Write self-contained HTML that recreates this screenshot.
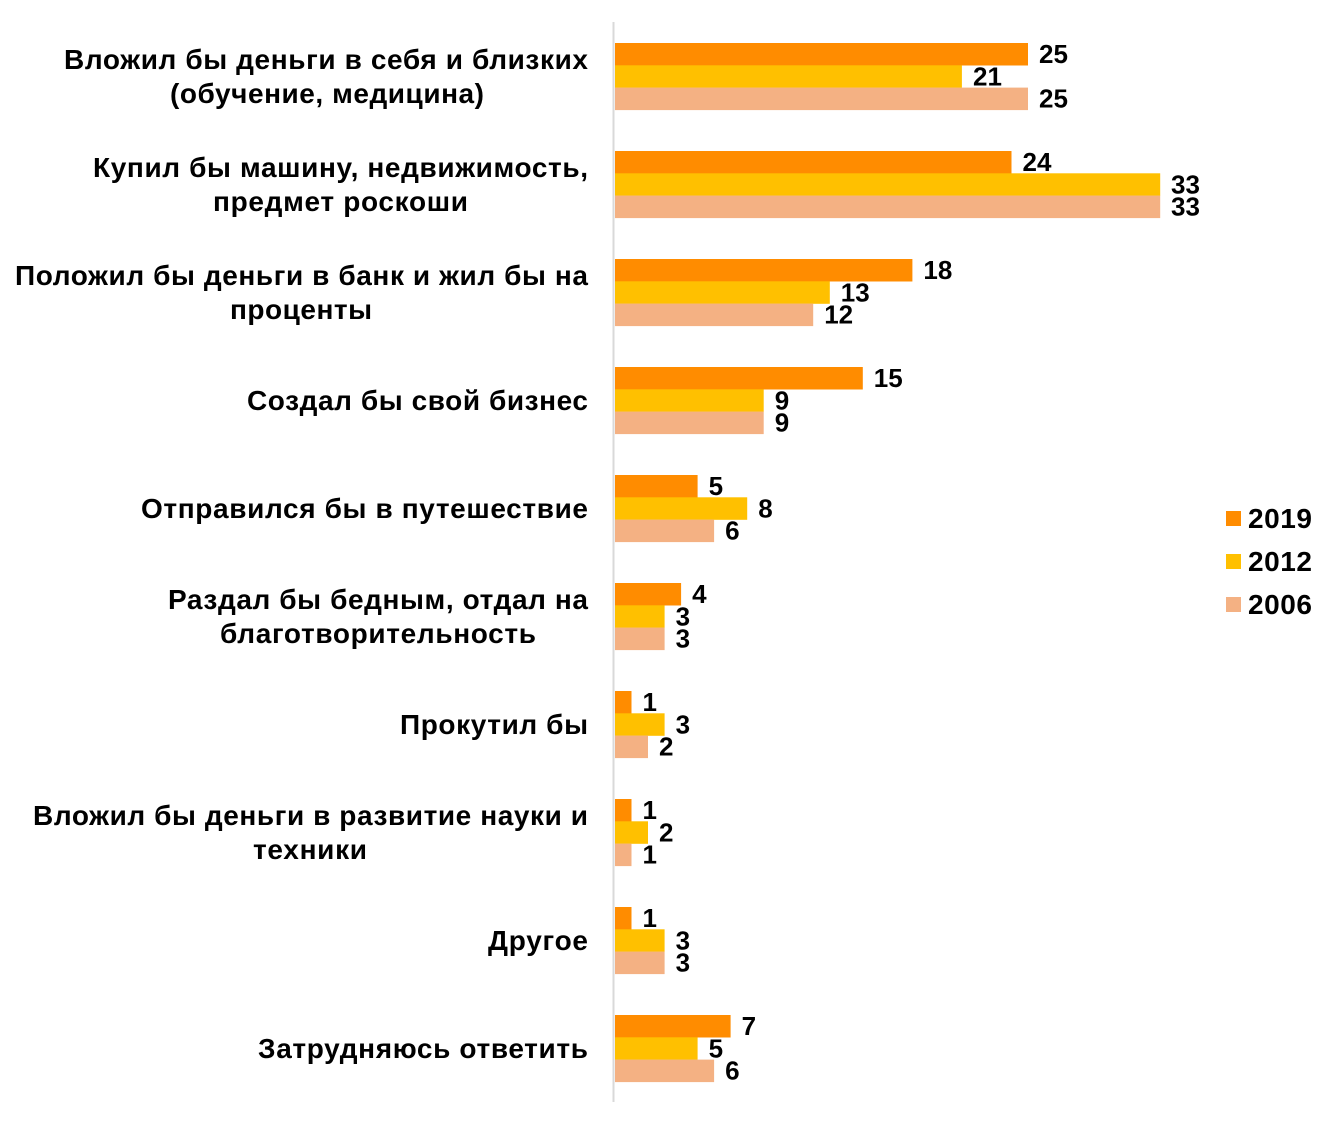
<!DOCTYPE html>
<html><head><meta charset="utf-8"><style>html,body{margin:0;padding:0;background:#fff}</style></head><body>
<svg width="1334" height="1125" xmlns="http://www.w3.org/2000/svg" font-family="Liberation Sans, Arial, sans-serif" font-weight="bold" font-size="26">
<rect width="1334" height="1125" fill="#fff"/>
<line x1="613.5" y1="22" x2="613.5" y2="1102" stroke="#d9d9d9" stroke-width="2"/>
<g>
<rect x="615" y="43" width="413" height="22.5" fill="#ff8c00"/><rect x="615" y="65.3" width="346.9" height="22.5" fill="#ffc000"/><rect x="615" y="87.6" width="413" height="22.5" fill="#f4b183"/>
<rect x="615" y="151" width="396.5" height="22.5" fill="#ff8c00"/><rect x="615" y="173.3" width="545.2" height="22.5" fill="#ffc000"/><rect x="615" y="195.6" width="545.2" height="22.5" fill="#f4b183"/>
<rect x="615" y="259" width="297.4" height="22.5" fill="#ff8c00"/><rect x="615" y="281.3" width="214.8" height="22.5" fill="#ffc000"/><rect x="615" y="303.6" width="198.2" height="22.5" fill="#f4b183"/>
<rect x="615" y="367" width="247.8" height="22.5" fill="#ff8c00"/><rect x="615" y="389.3" width="148.7" height="22.5" fill="#ffc000"/><rect x="615" y="411.6" width="148.7" height="22.5" fill="#f4b183"/>
<rect x="615" y="475" width="82.6" height="22.5" fill="#ff8c00"/><rect x="615" y="497.3" width="132.2" height="22.5" fill="#ffc000"/><rect x="615" y="519.6" width="99.1" height="22.5" fill="#f4b183"/>
<rect x="615" y="583" width="66.1" height="22.5" fill="#ff8c00"/><rect x="615" y="605.3" width="49.6" height="22.5" fill="#ffc000"/><rect x="615" y="627.6" width="49.6" height="22.5" fill="#f4b183"/>
<rect x="615" y="691" width="16.5" height="22.5" fill="#ff8c00"/><rect x="615" y="713.3" width="49.6" height="22.5" fill="#ffc000"/><rect x="615" y="735.6" width="33" height="22.5" fill="#f4b183"/>
<rect x="615" y="799" width="16.5" height="22.5" fill="#ff8c00"/><rect x="615" y="821.3" width="33" height="22.5" fill="#ffc000"/><rect x="615" y="843.6" width="16.5" height="22.5" fill="#f4b183"/>
<rect x="615" y="907" width="16.5" height="22.5" fill="#ff8c00"/><rect x="615" y="929.3" width="49.6" height="22.5" fill="#ffc000"/><rect x="615" y="951.6" width="49.6" height="22.5" fill="#f4b183"/>
<rect x="615" y="1015" width="115.6" height="22.5" fill="#ff8c00"/><rect x="615" y="1037.3" width="82.6" height="22.5" fill="#ffc000"/><rect x="615" y="1059.6" width="99.1" height="22.5" fill="#f4b183"/>
</g>
<g fill="#000">
<text x="1039" y="63">25</text><text x="973" y="85.3">21</text><text x="1039" y="107.6">25</text>
<text x="1022.5" y="171">24</text><text x="1171" y="193.3">33</text><text x="1171" y="215.6">33</text>
<text x="923.4" y="279">18</text><text x="840.8" y="301.3">13</text><text x="824.2" y="323.6">12</text>
<text x="873.8" y="387">15</text><text x="774.7" y="409.3">9</text><text x="774.7" y="431.6">9</text>
<text x="708.6" y="495">5</text><text x="758.2" y="517.3">8</text><text x="725.1" y="539.6">6</text>
<text x="692.1" y="603">4</text><text x="675.6" y="625.3">3</text><text x="675.6" y="647.6">3</text>
<text x="642.5" y="711">1</text><text x="675.6" y="733.3">3</text><text x="659" y="755.6">2</text>
<text x="642.5" y="819">1</text><text x="659" y="841.3">2</text><text x="642.5" y="863.6">1</text>
<text x="642.5" y="927">1</text><text x="675.6" y="949.3">3</text><text x="675.6" y="971.6">3</text>
<text x="741.6" y="1035">7</text><text x="708.6" y="1057.3">5</text><text x="725.1" y="1079.6">6</text>
</g>
<g fill="#000" font-size="28" lengthAdjust="spacingAndGlyphs">
<text x="64" y="69" textLength="524">Вложил бы деньги в себя и близких</text>
<text x="170" y="103" textLength="314">(обучение, медицина)</text>
<text x="93" y="177" textLength="495">Купил бы машину, недвижимость,</text>
<text x="213" y="211" textLength="255">предмет роскоши</text>
<text x="15" y="285" textLength="573">Положил бы деньги в банк и жил бы на</text>
<text x="230" y="319" textLength="142">проценты</text>
<text x="247" y="410" textLength="341">Создал бы свой бизнес</text>
<text x="141" y="518" textLength="447">Отправился бы в путешествие</text>
<text x="168" y="609" textLength="420">Раздал бы бедным, отдал на</text>
<text x="220" y="643" textLength="316">благотворительность</text>
<text x="400" y="734" textLength="188">Прокутил бы</text>
<text x="33" y="825" textLength="555">Вложил бы деньги в развитие науки и</text>
<text x="253" y="859" textLength="114">техники</text>
<text x="488" y="950" textLength="100">Другое</text>
<text x="258" y="1058" textLength="330">Затрудняюсь ответить</text>
</g>
<rect x="1226" y="511" width="15" height="15" fill="#ff8c00"/>
<rect x="1226" y="554" width="15" height="15" fill="#ffc000"/>
<rect x="1226" y="597" width="15" height="15" fill="#f4b183"/>
<g font-size="28">
<text x="1248" y="528" textLength="64">2019</text>
<text x="1248" y="571" textLength="64">2012</text>
<text x="1248" y="614" textLength="64">2006</text>
</g>
</svg>
</body></html>
